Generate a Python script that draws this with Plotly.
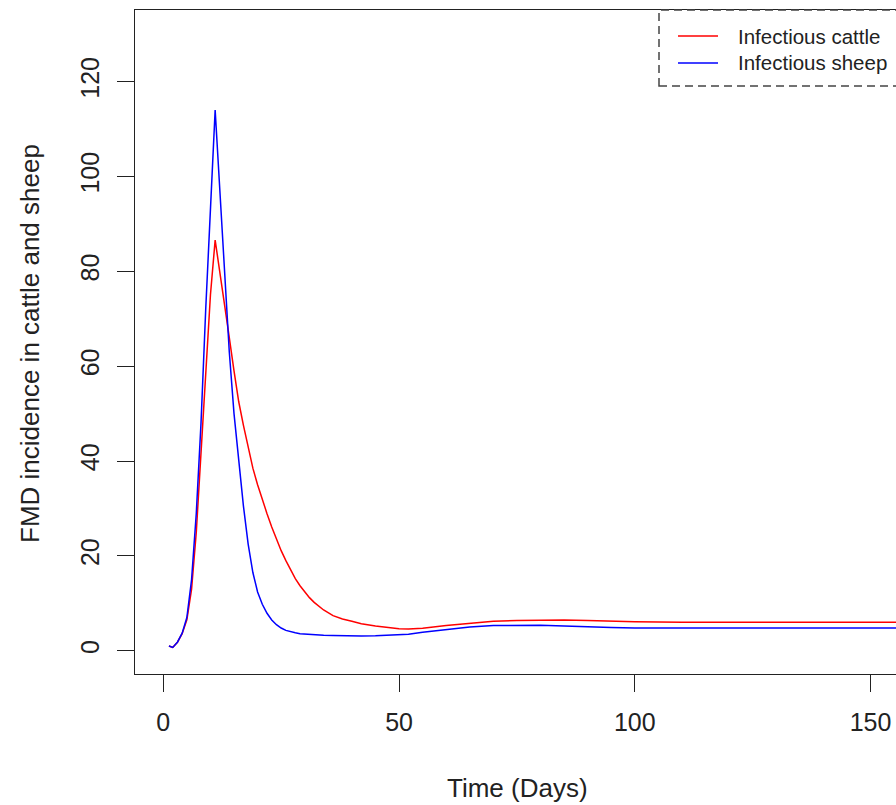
import plotly.graph_objects as go

# ---- data ----
days = [1.2, 2, 3, 4, 5, 6, 7, 8, 9, 10,
        11, 12, 13, 14, 15, 16, 17, 18, 19, 20, 21, 22, 23, 24, 25,
        26, 27, 28, 29, 30, 31, 32, 33, 34, 36, 38, 40, 42, 45, 48,
        50, 52, 55, 60, 65, 70, 75, 80, 85, 90, 95, 100,
        110, 120, 130, 140, 150, 160]

infectious_cattle = [1.0, 0.7, 1.8, 3.6, 6.5, 13, 25, 42, 59, 75,
                     86.6, 80, 73, 66, 59, 52.5, 47.5, 43, 38.5, 35, 31.8, 28.9, 26.1, 23.5, 21.1,
                     19.0, 17.0, 15.2, 13.7, 12.4, 11.2, 10.2, 9.3, 8.6, 7.4, 6.7, 6.2, 5.7, 5.2, 4.8,
                     4.65, 4.6, 4.75, 5.3, 5.8, 6.2, 6.4, 6.5, 6.5, 6.4, 6.2, 6.1,
                     6.0, 6.0, 6.0, 6.0, 6.0, 6.0]

infectious_sheep = [1.0, 0.7, 1.8, 3.7, 7.0, 15, 29, 48, 72, 93,
                    114, 97, 79, 63, 50, 39.5, 30.5, 22.5, 16.5, 12.4, 9.8, 7.9, 6.5, 5.5, 4.8,
                    4.3, 4.0, 3.8, 3.6, 3.5, 3.42, 3.35, 3.3, 3.25, 3.2, 3.15, 3.1, 3.1, 3.15, 3.25,
                    3.35, 3.5, 3.9, 4.5, 5.0, 5.3, 5.4, 5.4, 5.2, 5.0, 4.9, 4.8,
                    4.8, 4.8, 4.8, 4.8, 4.8, 4.8]

series_names = ["Infectious cattle", "Infectious sheep"]
series_colors = ["#ff0000", "#0000ff"]

x_ticks = [0, 50, 100, 150]
y_ticks = [0, 20, 40, 60, 80, 100, 120]

x_title = "Time (Days)"
y_title = "FMD incidence in cattle and sheep"

# ---- figure ----
W, H = 896, 805
L, R, T, B = 135, 0, 10, 131
pw, ph = W - L - R, H - T - B


def px(xp):
    return (xp - L) / pw


def py(yp):
    return (H - B - yp) / ph


FONT = "Liberation Sans, Arial, Helvetica, sans-serif"
TXT = "#222222"

fig = go.Figure()
for vals, name, col in zip([infectious_cattle, infectious_sheep], series_names, series_colors):
    fig.add_trace(go.Scatter(x=days, y=vals, mode="lines", name=name,
                             line=dict(color=col, width=1.5), showlegend=False,
                             hoverinfo="skip"))

fig.update_layout(
    width=W, height=H,
    margin=dict(l=L, r=R, t=T, b=B, pad=0),
    paper_bgcolor="white", plot_bgcolor="white",
    font=dict(family=FONT, size=25, color=TXT),
    xaxis=dict(range=[-6.0, 155.4], tickmode="array", tickvals=x_ticks,
               ticks="outside", ticklen=17, tickwidth=1, tickcolor="#222",
               showline=True, linecolor="#222", linewidth=1.2, mirror=True,
               showgrid=False, zeroline=False, ticklabelstandoff=9,
               tickfont=dict(size=25, color=TXT)),
    yaxis=dict(range=[-4.9, 135.1], tickmode="array", tickvals=y_ticks,
               ticks="outside", ticklen=17, tickwidth=1, tickcolor="#222",
               showline=True, linecolor="#222", linewidth=1.2, mirror=False,
               showgrid=False, zeroline=False, tickangle=-90, ticklabelstandoff=8,
               tickfont=dict(size=25, color=TXT)),
    showlegend=False,
)

# axis titles
fig.add_annotation(text=x_title, xref="paper", yref="paper", x=px(517), y=py(788),
                   xanchor="center", yanchor="middle", showarrow=False,
                   font=dict(size=26, color=TXT))
fig.add_annotation(text=y_title, xref="paper", yref="paper", x=px(30), y=py(344),
                   xanchor="center", yanchor="middle", showarrow=False, textangle=-90,
                   font=dict(size=26, color=TXT))

# legend box (white fill covering the frame, dashed border)
fig.add_shape(type="rect", xref="paper", yref="paper",
              x0=px(659), x1=px(899), y0=py(86), y1=py(10),
              fillcolor="white", line=dict(color="#444", width=1.5, dash="8px,5px"),
              layer="above")
for i, (name, col) in enumerate(zip(series_names, series_colors)):
    yy = [36, 63][i]
    fig.add_shape(type="line", xref="paper", yref="paper",
                  x0=px(678), x1=px(718), y0=py(yy), y1=py(yy),
                  line=dict(color=col, width=1.5), layer="above")
    fig.add_annotation(text=name, xref="paper", yref="paper", x=px(736), y=py(yy),
                       xanchor="left", yanchor="middle", showarrow=False,
                       font=dict(size=20.5, color=TXT))

fig.write_html("out.html", config={"displayModeBar": False},
               post_script="document.body.style.margin='0';document.body.style.padding='0';")
